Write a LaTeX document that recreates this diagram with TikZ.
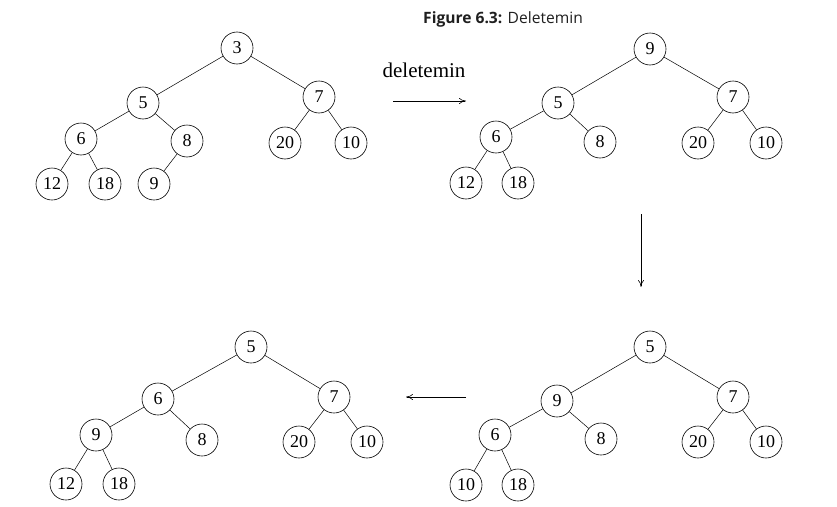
\documentclass[tikz,border=0pt]{standalone}
\usepackage{fontspec}
\setmainfont{Liberation Serif}
\newfontfamily\titlefont{Open Sans}
\usetikzlibrary{arrows.meta}
\tikzset{
  hn/.style={draw, circle, line width=0.6pt, minimum size=32pt, inner sep=0pt, font=\fontsize{18}{18}\selectfont},
  tl/.style={line width=0.5pt},
  flow/.style={line width=0.6pt, -{To[length=7pt,width=6pt]}}
}
\begin{document}
\begin{tikzpicture}[x=1pt,y=-1pt]
\useasboundingbox (0,0) rectangle (837,506);
% title
\node[anchor=base west, inner sep=0pt, text=black!88, font=\titlefont\fontsize{15.6}{15.6}\selectfont] (title) at (423,23) {\textbf{Figure 6.3:} Deletemin};
% tree A
\node[hn] (a3) at (237,48) {3};
\node[hn] (a5) at (143,103) {5};
\node[hn] (a7) at (319,97) {7};
\node[hn] (a6) at (81,139) {6};
\node[hn] (a8) at (187,141) {8};
\node[hn] (a20) at (285,143) {20};
\node[hn] (a10) at (351,143) {10};
\node[hn] (a12) at (52,184) {12};
\node[hn] (a18) at (105,184) {18};
\node[hn] (a9) at (154,184) {9};
\draw[tl] (a3)--(a5) (a3)--(a7) (a5)--(a6) (a5)--(a8) (a7)--(a20) (a7)--(a10)
  (a6)--(a12) (a6)--(a18) (a8)--(a9);
% arrow 1
\node[font=\fontsize{21}{21}\selectfont, inner sep=0pt] (lbl) at (424,70) {deletemin};
\coordinate (r1s) at (393,101);
\coordinate (r1e) at (466,101);
\draw[flow] (r1s) -- (r1e);
% tree B
\node[hn] (b9) at (650,49) {9};
\node[hn] (b5) at (558,103) {5};
\node[hn] (b7) at (733,97) {7};
\node[hn] (b6) at (496,137) {6};
\node[hn] (b8) at (600,142) {8};
\node[hn] (b20) at (698,143) {20};
\node[hn] (b10) at (766,143) {10};
\node[hn] (b12) at (466,183) {12};
\node[hn] (b18) at (518,183) {18};
\draw[tl] (b9)--(b5) (b9)--(b7) (b5)--(b6) (b5)--(b8) (b7)--(b20) (b7)--(b10)
  (b6)--(b12) (b6)--(b18);
% arrow 2
\coordinate (r2s) at (641,214);
\coordinate (r2e) at (641,287);
\draw[flow] (r2s) -- (r2e);
% tree C (bottom right)
\node[hn] (c5) at (650,347) {5};
\node[hn] (c9) at (557,401) {9};
\node[hn] (c7) at (733,397) {7};
\node[hn] (c6) at (495,435) {6};
\node[hn] (c8) at (601,439) {8};
\node[hn] (c20) at (698,442) {20};
\node[hn] (c10) at (766,442) {10};
\node[hn] (c10b) at (466,485) {10};
\node[hn] (c18) at (518,485) {18};
\draw[tl] (c5)--(c9) (c5)--(c7) (c9)--(c6) (c9)--(c8) (c7)--(c20) (c7)--(c10)
  (c6)--(c10b) (c6)--(c18);
% arrow 3
\coordinate (r3s) at (466,397);
\coordinate (r3e) at (406,397);
\draw[flow] (r3s) -- (r3e);
% tree D (bottom left)
\node[hn] (d5) at (251,347) {5};
\node[hn] (d6) at (158,399) {6};
\node[hn] (d7) at (334,397) {7};
\node[hn] (d9) at (96,435) {9};
\node[hn] (d8) at (202,440) {8};
\node[hn] (d20) at (299,442) {20};
\node[hn] (d10) at (367,442) {10};
\node[hn] (d12) at (66,484) {12};
\node[hn] (d18) at (119,484) {18};
\draw[tl] (d5)--(d6) (d5)--(d7) (d6)--(d9) (d6)--(d8) (d7)--(d20) (d7)--(d10)
  (d9)--(d12) (d9)--(d18);
\end{tikzpicture}
\end{document}
